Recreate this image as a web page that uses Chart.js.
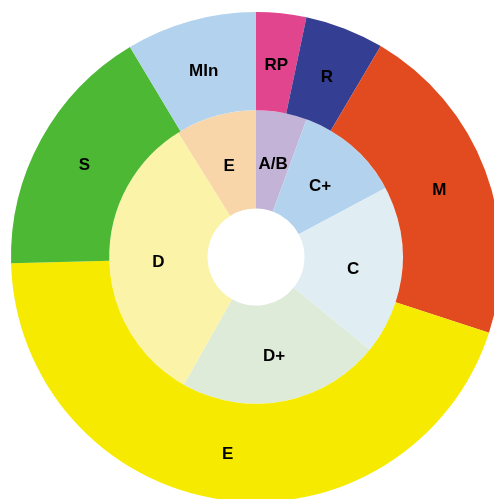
<!DOCTYPE html>
<html>
<head>
<meta charset="utf-8">
<script src="https://cdn.jsdelivr.net/npm/chart.js@4/dist/chart.umd.min.js"></script>
<style>
    html, body { margin: 0; padding: 0; background: #fff; overflow: hidden; }
    #wrap { position: absolute; left: 0; top: 0; width: 512px; height: 514px; }
</style>
</head>
<body>
<div id="wrap"><canvas id="chart" width="512" height="514"></canvas></div>
<script>
// outer ring (clockwise from the top)
const outerLabels = ['RP', 'R', 'M', 'E', 'S', 'MIn'];
const outerValues = [3.3, 5.2, 21.5, 44.6, 16.8, 8.6];
const outerColors = ['#E0458E', '#343E93', '#E24A20', '#F6EB00', '#4CB833', '#B3D2EE'];

// inner ring (clockwise from the top)
const innerLabels = ['A/B', 'C+', 'C', 'D+', 'D', 'E'];
const innerValues = [5.6, 11.6, 18.7, 22.3, 32.9, 8.9];
const innerColors = ['#C3B3D6', '#B3D2EE', '#E0EEF3', '#DDEBD8', '#FBF3A8', '#F8D6AA'];

// draw the slice names in the middle of every arc
const sliceLabels = {
    id: 'sliceLabels',
    afterDatasetsDraw(chart) {
        const ctx = chart.ctx;
        ctx.save();
        ctx.font = 'bold 17px "Liberation Sans", Arial, sans-serif';
        ctx.fillStyle = '#000';
        ctx.textAlign = 'center';
        ctx.textBaseline = 'middle';
        chart.data.datasets.forEach((ds, i) => {
            chart.getDatasetMeta(i).data.forEach((arc, j) => {
                const p = arc.getCenterPoint();
                ctx.fillText(ds.names[j], p.x, p.y + 3); // labels sit a little low in the original
            });
        });
        ctx.restore();
    }
};

new Chart(document.getElementById('chart'), {
    type: 'doughnut',
    data: {
        labels: outerLabels,
        datasets: [
            {
                data: outerValues,
                names: outerLabels,
                backgroundColor: outerColors,
            },
            {
                data: innerValues,
                names: innerLabels,
                backgroundColor: innerColors,
            },
        ],
    },
    options: {
        responsive: false,
        animation: false,
        events: [],
        cutout: '19.8%',
        layout: { padding: 11 },
        elements: {
            arc: { borderWidth: 0, offset: 0, hoverOffset: 0 },
        },
        plugins: {
            legend: { display: false },
            tooltip: { enabled: false },
        },
    },
    plugins: [sliceLabels],
});
</script>
</body>
</html>
